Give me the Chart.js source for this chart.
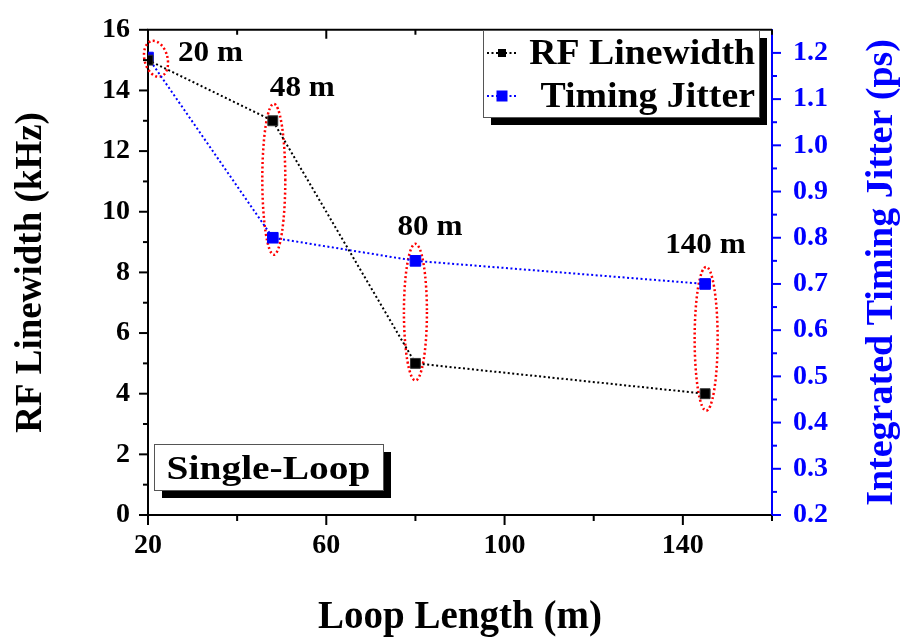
<!DOCTYPE html>
<html>
<head>
<meta charset="utf-8">
<script src="https://cdn.jsdelivr.net/npm/chart.js@4.4.0/dist/chart.umd.min.js"></script>
<style>
html, body { margin: 0; padding: 0; background: #fff; }
#caja { width: 905px; height: 644px; position: relative; }
</style>
</head>
<body>
<div id="caja"><canvas id="grafico"></canvas></div>
<script>
/* DATOS */
const loopLength = [20, 48, 80, 145];
const rfLinewidth = [15, 13, 5, 4];
const timingJitter = [1.19, 0.80, 0.75, 0.70];
const loopTags = ['20 m', '48 m', '80 m', '140 m'];
const xTickLabels = [20, 60, 100, 140];
const seriesNames = ['RF Linewidth', 'Timing Jitter'];
const boxText = 'Single-Loop';

/* ESTILO */
const serif = "'Liberation Serif', 'Times New Roman', serif";
const azul = '#0000ff';
const rojo = '#ff0000';
// desplazamientos de las etiquetas "xx m" respecto al punto mas alto (px)
const tagOffsets = [[30, 3], [-3, -25], [-18, -26], [-40, -31]];
// ajustes de las elipses rojas (dx, rotacion)
const ellipseTweak = [[8, -0.25], [1, 0], [0, 0], [1, 0]];

function toPoints(xs, ys) {
  return xs.map((x, i) => ({ x: x, y: ys[i] }));
}

// texto estirado en horizontal (la figura original esta algo ensanchada)
function wideText(ctx, txt, x, y, sx) {
  ctx.save();
  ctx.translate(x, y);
  ctx.scale(sx, 1);
  ctx.fillText(txt, 0, 0);
  ctx.restore();
}

/* dibujo de ticks, elipses, cajas y titulo derecho */
const extras = {
  id: 'extras',
  beforeDatasetsDraw(chart) {
    const ctx = chart.ctx;
    const x = chart.scales.x, y = chart.scales.y, y1 = chart.scales.y1;
    ctx.save();
    ctx.strokeStyle = rojo;
    ctx.lineWidth = 2.5;
    ctx.setLineDash([2, 2.5]);
    loopLength.forEach((v, i) => {
      const px = x.getPixelForValue(v);
      const a = y.getPixelForValue(rfLinewidth[i]);
      const b = y1.getPixelForValue(timingJitter[i]);
      const top = Math.min(a, b) - 17;
      const bottom = Math.max(a, b) + 17;
      ctx.beginPath();
      ctx.ellipse(px + ellipseTweak[i][0], (top + bottom) / 2, 11.5, (bottom - top) / 2,
        ellipseTweak[i][1], 0, Math.PI * 2);
      ctx.stroke();
    });
    ctx.restore();
  },
  afterDraw(chart) {
    const ctx = chart.ctx;
    const area = chart.chartArea;
    const x = chart.scales.x, y = chart.scales.y, y1 = chart.scales.y1;
    ctx.save();
    ctx.lineWidth = 2;
    ctx.setLineDash([]);

    // borde superior
    ctx.strokeStyle = '#000';
    ctx.beginPath();
    ctx.moveTo(area.left - 1, area.top);
    ctx.lineTo(area.right, area.top);
    ctx.stroke();

    // ticks eje x (abajo hacia fuera, arriba hacia dentro)
    for (let v = 20; v <= 160; v += 20) {
      const px = x.getPixelForValue(v);
      const big = xTickLabels.includes(v);
      ctx.beginPath();
      ctx.moveTo(px, area.bottom);
      ctx.lineTo(px, area.bottom + (big ? 10 : 6));
      ctx.moveTo(px, area.top);
      ctx.lineTo(px, area.top + (big ? 9 : 5));
      ctx.stroke();
    }
    // ticks eje izquierdo
    for (let v = 0; v <= 16; v += 1) {
      const py = y.getPixelForValue(v);
      ctx.beginPath();
      ctx.moveTo(area.left, py);
      ctx.lineTo(area.left - (v % 2 === 0 ? 9 : 5), py);
      ctx.stroke();
    }
    // ticks eje derecho
    ctx.strokeStyle = azul;
    for (let k = 0; k <= 20; k++) {
      const py = y1.getPixelForValue(0.2 + k * 0.05);
      ctx.beginPath();
      ctx.moveTo(area.right, py);
      ctx.lineTo(area.right + (k % 2 === 0 ? 9 : 5), py);
      ctx.stroke();
    }

    // etiquetas "xx m"
    ctx.fillStyle = '#000';
    ctx.font = 'bold 30px ' + serif;
    ctx.textAlign = 'left';
    ctx.textBaseline = 'alphabetic';
    loopLength.forEach((v, i) => {
      const px = x.getPixelForValue(v);
      const py = Math.min(y.getPixelForValue(rfLinewidth[i]), y1.getPixelForValue(timingJitter[i]));
      wideText(ctx, loopTags[i], px + tagOffsets[i][0], py + tagOffsets[i][1], 1.04);
    });

    // leyenda con sombra
    const lg = { l: 483, t: 30, w: 276, h: 87 };
    ctx.fillStyle = '#000';
    ctx.fillRect(lg.l + 8, lg.t + 8, lg.w, lg.h);
    ctx.fillStyle = '#fff';
    ctx.fillRect(lg.l, lg.t, lg.w, lg.h);
    ctx.strokeStyle = '#555';
    ctx.lineWidth = 1;
    ctx.strokeRect(lg.l + 0.5, lg.t + 0.5, lg.w, lg.h);
    const rows = [64, 107];
    chart.data.datasets.forEach((ds, i) => {
      const cy = rows[i] - 11;
      ctx.strokeStyle = ds.borderColor;
      ctx.lineWidth = 2;
      ctx.setLineDash([2, 2.5]);
      ctx.beginPath();
      ctx.moveTo(487, cy);
      ctx.lineTo(518, cy);
      ctx.stroke();
      ctx.setLineDash([]);
      ctx.fillStyle = ds.backgroundColor;
      const s = i === 0 ? 8 : 11;
      ctx.fillRect(502 - s / 2, cy - s / 2, s, s);
      ctx.fillStyle = '#000';
      ctx.font = 'bold 35px ' + serif;
      ctx.textAlign = 'right';
      wideText(ctx, ds.label, 755, rows[i], 1.08);
    });

    // caja Single-Loop
    const bx = { l: 154, t: 444, w: 229, h: 46 };
    ctx.fillStyle = '#000';
    ctx.fillRect(bx.l + 8, bx.t + 8, bx.w, bx.h);
    ctx.fillStyle = '#fff';
    ctx.fillRect(bx.l, bx.t, bx.w, bx.h);
    ctx.strokeStyle = '#555';
    ctx.lineWidth = 1;
    ctx.strokeRect(bx.l + 0.5, bx.t + 0.5, bx.w, bx.h);
    ctx.fillStyle = '#000';
    ctx.font = 'bold 34px ' + serif;
    ctx.textAlign = 'center';
    wideText(ctx, boxText, bx.l + bx.w / 2, 479, 1.16);

    // titulo eje derecho (de abajo hacia arriba)
    ctx.translate(882, (area.top + area.bottom) / 2);
    ctx.rotate(-Math.PI / 2);
    ctx.fillStyle = azul;
    ctx.font = 'bold 38px ' + serif;
    ctx.textAlign = 'center';
    ctx.textBaseline = 'middle';
    ctx.fillText('Integrated Timing Jitter (ps)', 0, 0);
    ctx.restore();
  }
};

const ctx = document.getElementById('grafico').getContext('2d');

const data = {
  datasets: [{
    label: seriesNames[0],
    data: toPoints(loopLength, rfLinewidth),
    yAxisID: 'y',
    showLine: true,
    borderColor: '#000',
    backgroundColor: '#000',
    borderWidth: 2,
    borderDash: [2, 2.5],
    pointStyle: 'rect',
    pointRadius: 7,
    pointBorderColor: '#333',
    pointBorderWidth: 1,
    clip: 0,
  }, {
    label: seriesNames[1],
    data: toPoints(loopLength, timingJitter),
    yAxisID: 'y1',
    showLine: true,
    borderColor: azul,
    backgroundColor: azul,
    borderWidth: 2,
    borderDash: [2, 2.5],
    pointStyle: 'rect',
    pointRadius: 7.5,
    pointBorderColor: azul,
    pointBorderWidth: 1,
    clip: 0,
  }]
};

const tickFont = { family: serif, size: 28, weight: 'bold' };

const options = {
  responsive: true,
  maintainAspectRatio: false,
  animation: false,
  layout: { padding: { top: 18, left: 0, right: 0, bottom: 0 } },
  plugins: {
    legend: { display: false },
    tooltip: { enabled: false },
  },
  scales: {
    x: {
      type: 'linear',
      min: 20,
      max: 160,
      afterFit: (s) => { s.height = 129; },
      ticks: {
        stepSize: 20,
        color: '#000',
        font: tickFont,
        padding: 6,
        maxRotation: 0,
        callback: (v) => xTickLabels.includes(v) ? v : '',
      },
      grid: { display: true, drawOnChartArea: false, tickLength: 8, tickColor: 'transparent' },
      border: { display: true, color: '#000', width: 2 },
      title: {
        display: true,
        text: 'Loop Length (m)',
        color: '#000',
        font: { family: serif, size: 39, weight: 'bold' },
        padding: { top: 0, bottom: 3 },
      },
    },
    y: {
      position: 'left',
      min: 0,
      max: 16,
      afterFit: (s) => { s.width = 148; },
      ticks: { stepSize: 2, color: '#000', font: tickFont, padding: 10 },
      grid: { display: true, drawOnChartArea: false, tickLength: 8, tickColor: 'transparent' },
      border: { display: true, color: '#000', width: 2 },
      title: {
        display: true,
        text: 'RF Linewidth (kHz)',
        color: '#000',
        font: { family: serif, size: 37, weight: 'bold' },
        padding: { top: 9, bottom: 0 },
      },
    },
    y1: {
      position: 'right',
      min: 0.2,
      max: 1.25,
      afterFit: (s) => { s.width = 133; },
      ticks: {
        stepSize: 0.1,
        includeBounds: false,
        color: azul,
        font: tickFont,
        padding: 13,
        callback: (v) => v.toFixed(1),
      },
      grid: { display: true, drawOnChartArea: false, tickLength: 8, tickColor: 'transparent' },
      border: { display: true, color: azul, width: 2 },
    }
  }
};

const miGrafico = new Chart(ctx, {
  type: 'scatter',
  data: data,
  options: options,
  plugins: [extras]
});
</script>
</body>
</html>
